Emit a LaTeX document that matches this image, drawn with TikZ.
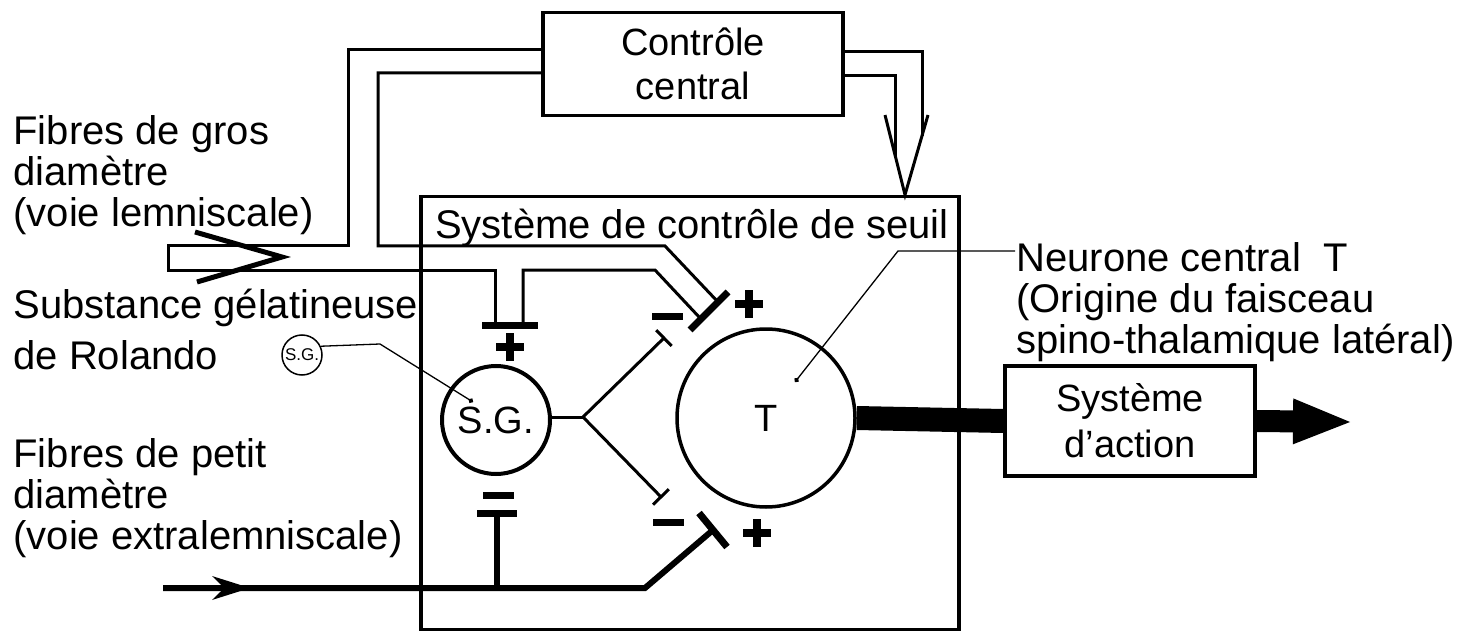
\documentclass[tikz,border=0pt]{standalone}
\usepackage{fontspec}
\setmainfont{Liberation Sans}
\usetikzlibrary{arrows.meta, calc}
\tikzset{
  every picture/.style={font=\fontsize{40}{41}\selectfont, line width=3pt},
  box/.style={draw, line width=3.5pt, align=center, inner sep=0pt, font=\fontsize{38}{44}\selectfont},
  txt/.style={align=left, anchor=west, inner sep=0pt},
  tube/.style={line width=3pt},
  fibre/.style={line width=6pt},
  bar/.style={line width=7pt},
  axon/.style={line width=3pt},
  lead/.style={line width=1.3pt, -{Circle[length=5pt]}},
  plus/.style={minimum size=28pt, inner sep=0pt, path picture={
    \draw[line width=8pt] (path picture bounding box.west) -- (path picture bounding box.east)
      (path picture bounding box.north) -- (path picture bounding box.south);}},
  minus/.style={fill, minimum width=31pt, minimum height=7pt, inner sep=0pt},
}

\begin{document}
\begin{tikzpicture}[x=1pt, y=-1pt, neuron/.style={circle, draw, inner sep=0pt, minimum size=#1}]
  \useasboundingbox (0,0) rectangle (1466,636);
  \node[box, minimum width=300pt, minimum height=103pt] (ctrl) at (693,64) {Contrôle\\central};
  \node[box, minimum width=538pt, minimum height=433pt] (sys) at (690,413) {};
  \node[inner sep=0pt] (seuil) at (692,228) {Système de contrôle de seuil};
  \node[box, minimum width=250pt, minimum height=110pt] (act) at (1130,421) {Système\\[2pt]d'action};
  \node[neuron=108pt, line width=4pt, font=\fontsize{38}{41}\selectfont] (sg) at (496,420) {S.G.};
  \node[neuron=178pt, line width=3.5pt, font=\fontsize{38}{41}\selectfont] (tn) at (766,418) {T};
  \node[circle, draw, line width=1.5pt, inner sep=0pt, minimum size=40pt, font=\fontsize{17}{17}\selectfont] (sgtag) at (302,355) {S.G.};
  \node[txt] (grosF) at (12,175) {Fibres de gros\\diamètre\\(voie lemniscale)};
  \node[txt] (sgF) at (12,329) {Substance gélatineuse\\[10pt]de Rolando};
  \node[txt] (petitF) at (12,498) {Fibres de petit\\diamètre\\(voie extralemniscale)};
  \node[txt] (tF) at (1015,302) {Neurone central\ \ T\\(Origine du faisceau\\spino-thalamique latéral)};
  \node[plus] (p1) at (510,347) {};
  \node[minus] (m1) at (498,495) {};
  \node[minus] (m2) at (667,316) {};
  \node[plus] (p2) at (749,304) {};
  \node[minus] (m3) at (668,522) {};
  \node[plus] (p3) at (757,533) {};
  \coordinate (ccTip) at (sys.north -| 905,0);
  \draw[tube] (ctrl.east |- 0,52) -| (922,136);
  \draw[tube] (ctrl.east |- 0,76) -| (895,156);
  \draw[tube] (885,115) -- (ccTip) -- (928,115);
  \draw[tube] (ctrl.west |- 0,50) -| (348,246) -- (168,246) |- (495,270) -- (495,325);
  \draw[tube] (ctrl.west |- 0,73) -| (378,246) -- (665,246) -- (718,302);
  \draw[tube] (523,325) |- (655,270) -- (700,318);
  \draw[line width=5pt] (195,232) -- (282,257) -- (197,282);
  \draw[bar] (482,325) -- (538,325);
  \draw[bar] (690,330) -- (728,292);
  \coordinate (petitIn) at (163,588);
  \draw[fibre] (petitIn) -- (645,588) -- (713,530);
  \draw[fibre, -{Stealth[length=38pt, width=24pt, line width=0pt]}] (petitIn) -- (250,588);
  \draw[bar] (699,513) -- (727,547);
  \draw[fibre] (497,588) -- (497,513);
  \draw[bar] (477,513) -- (517,513);
  \coordinate (fork) at (583,417);
  \draw[axon] (sg.east |- fork) -- (fork);
  \draw[axon, -{Bar[width=22pt]}] (fork) -- (665,337);
  \draw[axon, -{Bar[width=22pt]}] (fork) -- (662,498);
  \draw[line width=24pt] (tn.east) -- (act.west);
  \draw[line width=22pt, -{Triangle[length=57pt, width=46pt, line width=0pt]}] (act.east) -- (1350,422);
  \draw[lead] (sgtag.25) -- (380,344) -- (473,402);
  \draw[lead] (tF.west |- 0,251) -- (898,251) -- (795,382);
\end{tikzpicture}
\end{document}
